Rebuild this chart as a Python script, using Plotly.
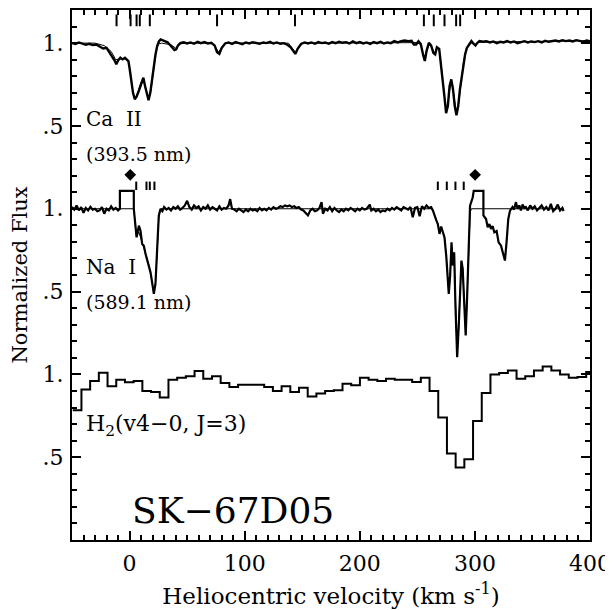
import plotly.graph_objects as go

# ---------------- data ----------------
# Ca II 393.5 nm: observed spectrum (velocity km/s, normalized flux)
ca_v = [-50, -47, -44, -41, -38, -35, -32, -29, -26, -23,
        -20, -17, -15, -13, -11.5, -10, -8, -6, -4, -2,
        -1, 0, 1, 2, 3, 4.5, 6, 8, 10, 12,
        13.5, 15, 16.5, 18, 19.5, 21, 22.5, 24, 25.5, 27,
        29, 31, 33, 35, 37, 39, 40.5, 42, 44, 47,
        50, 53, 56, 59, 62, 65, 68, 71, 74, 76,
        78, 80, 83, 86, 89, 92, 95, 98, 101, 104,
        107, 110, 113, 116, 119, 122, 125, 128, 131, 134,
        137, 140, 142, 144, 146, 149, 152, 155, 158, 161,
        164, 167, 170, 173, 176, 179, 182, 185, 188, 191,
        194, 197, 200, 203, 206, 209, 212, 215, 218, 221,
        224, 227, 230, 233, 236, 239, 242, 245, 247, 249,
        251, 253, 255, 256.5, 258, 260, 262, 264, 265.5, 267,
        269, 270.5, 272, 273.5, 275, 276.5, 278, 279.5, 281, 282.5,
        284, 285.5, 287, 288.5, 290, 291.5, 293, 295, 297, 299,
        300.5, 302, 304, 307, 310, 313, 316, 319, 322, 325,
        328, 331, 334, 337, 340, 343, 346, 349, 352, 355,
        358, 361, 364, 367, 370, 373, 376, 379, 382, 385,
        388, 391, 394, 397, 400]
ca_flux = [1.000, 0.995, 1.004, 0.998, 0.990, 0.996, 0.988, 0.992, 0.978, 0.968,
           0.972, 0.940, 0.915, 0.895, 0.872, 0.895, 0.912, 0.902, 0.912, 0.900,
           0.892, 0.850, 0.801, 0.745, 0.700, 0.661, 0.675, 0.711, 0.755, 0.791,
           0.740, 0.690, 0.655, 0.700, 0.780, 0.860, 0.930, 0.982, 1.010, 1.022,
           1.015, 1.012, 1.005, 0.990, 0.975, 0.958, 0.962, 0.985, 1.000, 1.005,
           0.998, 1.004, 0.996, 1.008, 1.000, 1.006, 0.998, 1.002, 0.985, 0.945,
           0.935, 0.970, 0.998, 1.004, 0.995, 1.006, 1.000, 0.994, 1.004, 0.998,
           1.006, 1.000, 0.996, 1.004, 1.000, 1.008, 0.998, 1.004, 0.996, 1.000,
           0.990, 0.975, 0.952, 0.935, 0.965, 0.995, 1.004, 0.998, 1.004, 0.996,
           1.006, 1.000, 1.004, 0.996, 1.006, 1.000, 1.008, 1.002, 1.006, 0.998,
           1.010, 1.000, 1.006, 0.998, 1.004, 0.995, 1.006, 1.000, 1.008, 0.998,
           1.004, 1.000, 1.012, 1.004, 1.012, 1.016, 1.012, 1.014, 0.992, 0.992,
           1.012, 0.995, 0.930, 0.892, 0.952, 1.002, 0.985, 0.940, 0.932, 0.975,
           0.965, 0.880, 0.790, 0.680, 0.577, 0.620, 0.740, 0.781, 0.720, 0.620,
           0.565, 0.620, 0.720, 0.800, 0.870, 0.932, 0.970, 0.995, 1.012, 0.995,
           0.986, 1.000, 1.012, 1.008, 1.012, 1.004, 1.010, 1.000, 1.008, 1.004,
           1.012, 1.004, 1.010, 1.000, 1.008, 1.012, 1.004, 1.010, 1.006, 1.012,
           1.004, 1.014, 1.008, 1.012, 1.016, 1.010, 1.018, 1.012, 1.016, 1.010,
           1.018, 1.014, 1.008, 1.016, 1.012]

# Ca II model fit
ca_fit_v = [-50, -30, -22, -16, -12, -8, -4, -1, 1, 3,
            4.5, 6, 8, 10, 12, 14, 16.5, 18.5, 21, 23,
            25, 28, 36, 40, 44, 48, 72, 75, 77.5, 80,
            83, 138, 141, 144, 147, 150, 250, 253, 256, 258.5,
            261, 263, 265, 267, 269, 271, 273, 275, 277, 279,
            280.5, 282.5, 284, 286, 288, 290, 292, 294, 297, 300,
            303, 320, 360, 400]
ca_fit_flux = [1.0, 1.0, 0.985, 0.95, 0.90, 0.905, 0.905, 0.89, 0.80, 0.70,
               0.665, 0.68, 0.72, 0.765, 0.78, 0.72, 0.66, 0.71, 0.85, 0.95,
               0.995, 1.0, 0.99, 0.97, 0.995, 1.0, 1.0, 0.97, 0.945, 0.975,
               1.0, 1.0, 0.975, 0.945, 0.975, 1.0, 1.003, 0.99, 0.90, 0.96,
               1.0, 0.97, 0.935, 0.97, 0.96, 0.85, 0.70, 0.58, 0.66, 0.76,
               0.75, 0.63, 0.57, 0.64, 0.78, 0.88, 0.955, 0.985, 1.0, 0.99,
               1.005, 1.007, 1.011, 1.015]

# Na I 589.1 nm: observed spectrum
na_v = [-50, -48, -46, -44, -42, -40, -38, -36, -34, -32,
        -30, -28, -26, -24, -22, -20, -18, -16, -14, -12,
        -10, -8.4, -8.4, 3.7, 3.7, 6.1, 8.1, 9.5, 11, 12.4,
        13.9, 15, 16.7, 18.2, 19.5, 21.1, 22.5, 24, 25.4, 26.8,
        28.5, 30, 32, 34, 36, 38, 40, 42, 44, 46,
        48, 50, 52, 54, 56, 58, 60, 62, 64, 66,
        68, 70, 72, 74, 76, 78, 80, 82, 84, 86,
        87.4, 89, 91, 93, 95, 97, 99, 101, 103, 105,
        107, 109, 111, 113, 115, 117, 119, 121, 123, 125,
        127, 129, 131, 133, 135, 137, 139, 141, 143, 145,
        147, 149, 151, 153, 155, 157, 159, 161, 163, 165,
        166.8, 168, 170, 172, 174, 176, 178, 180, 182, 184,
        186, 188, 190, 192, 194, 196, 198, 200, 202, 204,
        206, 208.7, 210, 212, 214, 216, 218, 220, 222, 224,
        226, 228, 230, 232, 234, 236, 238, 240, 242, 244,
        246, 248, 250, 252, 254, 256, 258, 260, 262, 263.5,
        264.9, 266.5, 267.8, 269.3, 270.7, 272.1, 273.6, 275.1, 276.5, 277.3,
        278.5, 279.7, 280.8, 282, 283.1, 284.6, 286, 287.2, 288.3, 289.4,
        290.9, 292, 293.2, 294.6, 295.8, 298.1, 299, 307.4, 307.4, 309.7,
        311.1, 312.6, 314, 315.4, 316.9, 318.9, 320.6, 322.7, 324.7, 326.1,
        327.5, 329, 330.5, 332.7, 334, 335.7, 337, 338.5, 340, 341.4,
        343, 344.3, 346, 348, 350, 352, 354, 356, 358, 360,
        362, 364, 366, 368, 370, 372, 374, 376, 377]
na_flux = [1.010, 0.995, 1.020, 0.990, 1.010, 0.975, 1.005, 0.990, 1.012, 0.995,
           1.000, 0.985, 0.990, 1.010, 0.970, 1.000, 0.990, 1.015, 0.995, 1.005,
           0.990, 1.000, 1.108, 1.108, 1.000, 0.827, 0.898, 0.867, 0.787, 0.777,
           0.727, 0.700, 0.657, 0.616, 0.560, 0.486, 0.546, 0.737, 0.958, 0.998,
           0.985, 1.010, 0.995, 1.005, 0.990, 1.010, 1.000, 1.015, 0.995, 1.005,
           1.020, 1.048, 1.010, 0.995, 1.020, 1.005, 1.015, 0.990, 1.010, 1.000,
           1.020, 0.995, 1.010, 1.000, 0.990, 1.015, 0.995, 1.005, 1.000, 1.020,
           1.058, 1.000, 0.995, 0.985, 1.000, 0.990, 0.980, 0.995, 0.985, 1.000,
           0.990, 0.995, 0.985, 1.005, 0.990, 1.000, 0.990, 1.005, 0.995, 1.010,
           1.000, 1.005, 1.015, 1.010, 1.020, 1.015, 1.020, 1.010, 1.015, 1.005,
           1.010, 0.995, 0.990, 0.975, 0.960, 0.990, 1.000, 0.985, 0.990, 1.005,
           1.040, 0.970, 1.000, 0.990, 1.010, 0.985, 1.005, 0.990, 0.980, 0.995,
           0.985, 1.000, 0.990, 1.005, 0.995, 0.985, 1.000, 0.990, 1.005, 0.995,
           1.000, 1.025, 0.990, 1.000, 0.985, 0.995, 0.980, 0.990, 0.985, 1.000,
           0.990, 1.005, 0.995, 1.010, 1.000, 0.990, 1.010, 1.000, 0.995, 1.010,
           0.948, 1.005, 1.010, 0.955, 1.015, 1.000, 1.020, 1.005, 1.010, 0.990,
           0.958, 0.930, 0.908, 0.848, 0.893, 0.867, 0.827, 0.717, 0.576, 0.486,
           0.596, 0.797, 0.657, 0.737, 0.416, 0.104, 0.295, 0.496, 0.687, 0.637,
           0.416, 0.235, 0.456, 0.757, 1.018, 1.068, 1.108, 1.108, 0.960, 0.938,
           0.888, 0.908, 0.878, 0.895, 0.857, 0.865, 0.797, 0.777, 0.727, 0.687,
           0.797, 0.938, 0.988, 1.010, 0.995, 1.040, 1.000, 1.020, 0.990, 1.025,
           1.005, 1.010, 0.990, 1.020, 1.000, 1.015, 0.990, 1.005, 1.020, 0.995,
           1.010, 0.990, 1.030, 0.985, 1.000, 1.025, 0.990, 1.005, 0.985]

# Na I model fit
na_fit_v = [-50, 3.7, 5, 6.1, 8, 10, 12, 14, 16.7, 18.2,
            21.1, 22.5, 24, 25.4, 27, 263, 265, 267.8, 269.3, 271,
            273.6, 275.1, 277.3, 278.5, 279.7, 280.8, 282, 283.1, 284.6, 286,
            287.2, 288.3, 289.4, 290.9, 292, 293.2, 294.6, 296, 297, 377]
na_fit_flux = [1.0, 1.0, 0.90, 0.83, 0.86, 0.82, 0.77, 0.73, 0.66, 0.61,
               0.49, 0.55, 0.74, 0.95, 1.0, 1.0, 0.96, 0.91, 0.85, 0.88,
               0.83, 0.72, 0.49, 0.60, 0.78, 0.66, 0.73, 0.42, 0.11, 0.30,
               0.50, 0.68, 0.64, 0.42, 0.24, 0.46, 0.76, 0.98, 1.0, 1.0]

# H2 (v4-0, J=3): binned spectrum (bin edges and bin values)
h2_edges = [-49.36, -41.8, -34.24, -26.68, -19.12, -11.56, -4.0, 3.56, 11.12, 18.68,
            26.24, 33.8, 41.36, 48.92, 56.48, 64.04, 71.6, 79.16, 86.72, 94.28,
            101.84, 109.4, 116.96, 124.52, 132.08, 139.64, 147.2, 154.76, 162.32, 169.88,
            177.44, 185.0, 192.56, 200.12, 207.68, 215.24, 222.8, 230.36, 237.92, 245.48,
            253.04, 260.6, 268.16, 275.72, 283.28, 290.84, 298.4, 305.96, 313.52, 321.08,
            328.64, 336.2, 343.76, 351.32, 358.88, 366.44, 374.0, 381.56, 389.12, 396.68,
            404.24]
h2_flux = [0.783, 0.908, 0.960, 1.010, 0.928, 0.968, 0.952, 0.960, 0.900, 0.894,
           0.860, 0.968, 0.980, 0.988, 1.020, 0.974, 0.988, 0.948, 0.924, 0.938,
           0.938, 0.938, 0.924, 0.900, 0.928, 0.894, 0.920, 0.867, 0.884, 0.900,
           0.904, 0.944, 0.934, 0.980, 0.968, 0.960, 0.974, 0.968, 0.968, 0.954,
           0.980, 0.900, 0.739, 0.522, 0.438, 0.488, 0.719, 0.888, 1.000, 1.008,
           1.024, 0.974, 0.988, 1.024, 1.048, 1.024, 1.000, 0.980, 0.984, 1.014]

# component markers
ca_marks = [-11.3, 0.9, 6.1, 8.9, 17.6, 76, 143.7, 255.7, 264.3, 273.6, 283.7, 287.2]
na_marks = [5.8, 14.7, 17.6, 21.6, 267.8, 275.6, 283.1, 290.3]
na_diamonds = [0.6, 300.2]

# labels
y_tick_vals = [0.5, 1.0, 1.5, 2.0, 2.5, 3.0]
y_tick_text = [".5", "1.", ".5", "1.", ".5", "1."]
x_tick_vals = [0, 100, 200, 300, 400]
x_tick_text = ["0", "100", "200", "300", "400"]

# ---------------- figure ----------------
CA_OFF, NA_OFF, H2_OFF = 2.0, 1.0, 0.0
FONT = "DejaVu Serif"
BLACK = "black"

fig = go.Figure()

fig.add_trace(go.Scatter(x=ca_fit_v, y=[f + CA_OFF for f in ca_fit_flux], mode="lines",
                         line=dict(color=BLACK, width=1), hoverinfo="skip"))
fig.add_trace(go.Scatter(x=ca_v, y=[f + CA_OFF for f in ca_flux], mode="lines",
                         line=dict(color=BLACK, width=2.4)))

fig.add_trace(go.Scatter(x=na_fit_v, y=[f + NA_OFF for f in na_fit_flux], mode="lines",
                         line=dict(color=BLACK, width=1), hoverinfo="skip"))
fig.add_trace(go.Scatter(x=na_v, y=[f + NA_OFF for f in na_flux], mode="lines",
                         line=dict(color=BLACK, width=2.2)))

fig.add_trace(go.Scatter(x=h2_edges, y=[f + H2_OFF for f in h2_flux] + [h2_flux[-1] + H2_OFF],
                         mode="lines", line=dict(color=BLACK, width=2, shape="hv")))

# marker ticks
mx, my = [], []
for v in ca_marks:
    mx += [v, v, None]
    my += [1.102 + CA_OFF, 1.173 + CA_OFF, None]
for v in na_marks:
    mx += [v, v, None]
    my += [1.113 + NA_OFF, 1.164 + NA_OFF, None]
fig.add_trace(go.Scatter(x=mx, y=my, mode="lines", line=dict(color=BLACK, width=2)))

fig.add_trace(go.Scatter(x=na_diamonds, y=[1.205 + NA_OFF] * len(na_diamonds), mode="markers",
                         marker=dict(symbol="diamond", size=9, color=BLACK)))

# annotations
def label(text, x, y, size):
    fig.add_annotation(x=x, y=y, text=text, showarrow=False, xanchor="left", yanchor="middle",
                       font=dict(family=FONT, size=size, color=BLACK))

label("Ca  II", -40, 0.54 + CA_OFF, 20)
label("(393.5 nm)", -40, 0.33 + CA_OFF, 19)
label("Na  I", -40, 0.65 + NA_OFF, 20)
label("(589.1 nm)", -40, 0.44 + NA_OFF, 19)
label("H<sub>2</sub>(v4−0, J=3)", -40, 0.69 + H2_OFF, 22)
label("SK−67D05", 0, 0.18 + H2_OFF, 36)

axis_common = dict(showline=True, linecolor=BLACK, linewidth=2, mirror="allticks",
                   ticks="inside", tickcolor=BLACK, tickwidth=1.5, ticklen=9,
                   showgrid=False, zeroline=False,
                   tickfont=dict(family=FONT, size=22, color=BLACK))

fig.update_xaxes(range=[-50, 400], tickvals=x_tick_vals, ticktext=x_tick_text,
                 ticklabelstandoff=3, ticklabeloverflow="allow",
                 minor=dict(tick0=0, dtick=10, ticks="inside", ticklen=5, tickwidth=1.5,
                            tickcolor=BLACK, showgrid=False),
                 title=dict(text="Heliocentric velocity (km s<sup>-1</sup>)",
                            font=dict(family=FONT, size=23, color=BLACK), standoff=12),
                 **axis_common)
fig.update_yaxes(range=[0, 3.2], tickvals=y_tick_vals, ticktext=y_tick_text,
                 ticklabelstandoff=2,
                 minor=dict(tick0=0, dtick=0.1, ticks="inside", ticklen=5, tickwidth=1.5,
                            tickcolor=BLACK, showgrid=False),
                 title=dict(text="Normalized Flux",
                            font=dict(family=FONT, size=21, color=BLACK), standoff=14),
                 **axis_common)

# the page body adds an 8 px offset; size the figure so the frame lands at
# x 72..590, y 8..540 of the 613x610 window
fig.update_layout(width=605, height=602, showlegend=False,
                  margin=dict(l=64, r=23, t=0, b=70),
                  plot_bgcolor="white", paper_bgcolor="white")

fig.write_html("out.html")
